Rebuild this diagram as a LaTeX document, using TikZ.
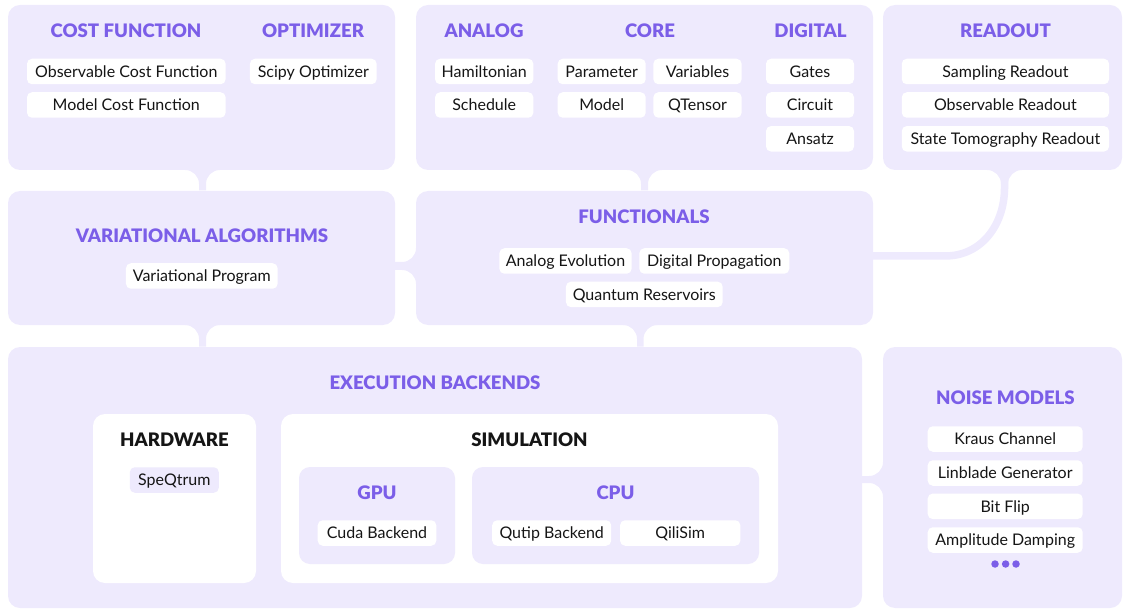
\documentclass[tikz,border=0pt]{standalone}
\usepackage{fontspec}
\setmainfont{Lato}
\newfontfamily\blackfont{Lato}[UprightFont=* Black]
\usetikzlibrary{calc}
\definecolor{bg}{HTML}{EEEAFD}
\definecolor{pur}{HTML}{7B5EE8}
\definecolor{ink}{HTML}{151515}
\newcommand\chipfont{\fontsize{16}{18}\selectfont}
\newcommand\ttlfont{\fontsize{18.6}{22}\selectfont\blackfont}
% vertical bridge, flare on the upper panel
\newcommand\vbridge[4]{%
  \fill[bg] let \p1=(#1.south), \p2=(#2.north) in
    ({#3pt-14pt},\y1) .. controls ({#3pt-6.27pt},\y1) and (#3pt,{\y1-6.27pt}) .. (#3pt,{\y1-14pt})
    -- (#3pt,{\y2+0.5pt}) -- (#4pt,{\y2+0.5pt}) -- (#4pt,{\y1-14pt})
    .. controls (#4pt,{\y1-6.27pt}) and ({#4pt+6.27pt},\y1) .. ({#4pt+14pt},\y1) -- cycle;}
% horizontal bridge, flare on the right panel
\newcommand\hbridge[4]{%
  \fill[bg] let \p1=(#1.east), \p2=(#2.west) in
    ({\x1-0.5pt},-#3pt) -- ({\x2-14pt},-#3pt) .. controls ({\x2-6.27pt},-#3pt) and (\x2,{-#3pt+6.27pt}) .. (\x2,{-#3pt+14pt})
    -- (\x2,{-#4pt-14pt}) .. controls (\x2,{-#4pt-6.27pt}) and ({\x2-6.27pt},-#4pt) .. ({\x2-14pt},-#4pt)
    -- ({\x1-0.5pt},-#4pt) -- cycle;}
\begin{document}
\begin{tikzpicture}[x=1pt,y=-1pt,
  panel/.style={fill=bg, rounded corners=12pt, inner sep=0pt, outer sep=0pt, anchor=north west, draw=none},
  wbox/.style={fill=white, rounded corners=12pt, inner sep=0pt, outer sep=0pt, anchor=north west},
  subbox/.style={fill=bg, rounded corners=11pt, inner sep=0pt, outer sep=0pt, anchor=north west},
  chip/.style={fill=white, rounded corners=5pt, inner sep=0pt, minimum height=25.5pt, font=\chipfont, text=ink, text height=11.6pt, text depth=0pt},
  lchip/.style={chip, fill=bg},
  ttl/.style={font=\ttlfont, text=pur, inner sep=0pt, text height=13.6pt, text depth=0pt},
  bttl/.style={ttl, text=ink},
  dot/.style={circle, fill=pur, inner sep=0pt, minimum size=7.5pt}]
\useasboundingbox (0,0) rectangle (1123,609);
% panels
\node[panel, minimum width=387pt, minimum height=165pt] (cf) at (8,5) {};
\node[panel, minimum width=457pt, minimum height=165pt] (co) at (416,5) {};
\node[panel, minimum width=239pt, minimum height=165pt] (ro) at (883,5) {};
\node[panel, minimum width=387pt, minimum height=134pt] (va) at (8,191) {};
\node[panel, minimum width=457pt, minimum height=134pt] (fn) at (416,191) {};
\node[panel, minimum width=854pt, minimum height=261pt] (ex) at (8,347) {};
\node[panel, minimum width=239pt, minimum height=261pt] (nm) at (883,347) {};
% bridges
\vbridge{cf}{va}{199}{206}
\vbridge{co}{fn}{641}{648}
\vbridge{va}{ex}{199}{206}
\vbridge{fn}{ex}{637}{643.5}
\hbridge{va}{fn}{262}{270}
\hbridge{ex}{nm}{476}{483}
% readout band
\fill[bg] let \p1=(ro.south) in
  (987pt,\y1) .. controls (994.73pt,\y1) and (1001pt,{\y1-6.27pt}) .. (1001pt,{\y1-14pt})
  -- (1001pt,{\y1-22pt}) -- (1008pt,{\y1-22pt}) -- (1008pt,{\y1-14pt})
  .. controls (1008pt,{\y1-6.27pt}) and (1014.27pt,\y1) .. (1022pt,\y1) -- cycle;
\draw[bg, line width=7.5pt] let \p1=(ro.south), \p2=(fn.east) in
  (1004.5pt,{\y1-10pt}) -- (1004.5pt,-188pt) .. controls (1004.5pt,-224pt) and (982pt,{\y2+2pt}) .. (945pt,{\y2+2pt}) -- ({\x2-1pt},{\y2+2pt});
% titles top row
\node[ttl] (tcf) at (126,31) {COST FUNCTION};
\node[ttl] (top) at (313,31) {OPTIMIZER};
\node[ttl] (tan) at (484,31) {ANALOG};
\node[ttl] (tco) at (650,31) {CORE};
\node[ttl] (tdi) at (810.5,31) {DIGITAL};
\node[ttl] (tro) at (1005.5,31) {READOUT};
% chips top row
\node[chip, minimum width=198.6pt] (c1) at (126.3,71.5) {Observable Cost Function};
\node[chip, minimum width=198.6pt] (c2) at (126.3,105) {Model Cost Function};
\node[chip, minimum width=126.7pt] (c3) at (313.3,71.5) {Scipy Optimizer};
\node[chip, minimum width=98.3pt] (a1) at (484.2,71.5) {Hamiltonian};
\node[chip, minimum width=98.3pt] (a2) at (484.2,105) {Schedule};
\node[chip, minimum width=88pt] (k1) at (601.7,71.5) {Parameter};
\node[chip, minimum width=88.3pt] (k2) at (697.5,71.5) {Variables};
\node[chip, minimum width=88pt] (k3) at (601.7,105) {Model};
\node[chip, minimum width=88.3pt] (k4) at (697.5,105) {QTensor};
\node[chip, minimum width=88pt] (g1) at (810,71.5) {Gates};
\node[chip, minimum width=88pt] (g2) at (810,105) {Circuit};
\node[chip, minimum width=88pt] (g3) at (810,138.8) {Ansatz};
\node[chip, minimum width=207.3pt] (r1) at (1005.4,71.5) {Sampling Readout};
\node[chip, minimum width=207.3pt] (r2) at (1005.4,105) {Observable Readout};
\node[chip, minimum width=207.3pt] (r3) at (1005.4,138.8) {State Tomography Readout};
% middle row
\node[ttl] (tva) at (202,236) {VARIATIONAL ALGORITHMS};
\node[chip, minimum width=151.7pt] (v1) at (201.8,276) {Variational Program};
\node[ttl] (tfn) at (644,217) {FUNCTIONALS};
\node[chip, minimum width=132.3pt] (f1) at (565.5,261) {Analog Evolution};
\node[chip, minimum width=150pt] (f2) at (714.3,261) {Digital Propagation};
\node[chip, minimum width=156.7pt] (f3) at (644.3,294.4) {Quantum Reservoirs};
% execution backends
\node[ttl] (tex) at (435,383) {EXECUTION BACKENDS};
\node[wbox, minimum width=163pt, minimum height=169pt] (hw) at (93,414) {};
\node[wbox, minimum width=497pt, minimum height=169pt] (sim) at (281,414) {};
\node[bttl] (thw) at (174.5,440) {HARDWARE};
\node[lchip, minimum width=89pt] (h1) at (174.3,480) {SpeQtrum};
\node[bttl] (tsim) at (529.5,440) {SIMULATION};
\node[subbox, minimum width=156pt, minimum height=97pt] (gpu) at (299,467) {};
\node[subbox, minimum width=287pt, minimum height=97pt] (cpu) at (472,467) {};
\node[ttl] (tgpu) at (377,493) {GPU};
\node[ttl] (tcpu) at (615.5,493) {CPU};
\node[chip, minimum width=118.6pt] (s1) at (377,533) {Cuda Backend};
\node[chip, minimum width=119pt] (s2) at (551.7,533) {Qutip Backend};
\node[chip, minimum width=120.3pt] (s3) at (680.2,533) {QiliSim};
% noise models
\node[ttl] (tnm) at (1005.5,398) {NOISE MODELS};
\node[chip, minimum width=155pt] (n1) at (1005.2,439) {Kraus Channel};
\node[chip, minimum width=155pt] (n2) at (1005.2,473) {Linblade Generator};
\node[chip, minimum width=155pt] (n3) at (1005.2,506.3) {Bit Flip};
\node[chip, minimum width=155pt] (n4) at (1005.2,540) {Amplitude Damping};
\node[dot] (d1) at (995,564) {};
\node[dot] (d2) at (1005.6,564) {};
\node[dot] (d3) at (1016,564) {};
\end{tikzpicture}
\end{document}
